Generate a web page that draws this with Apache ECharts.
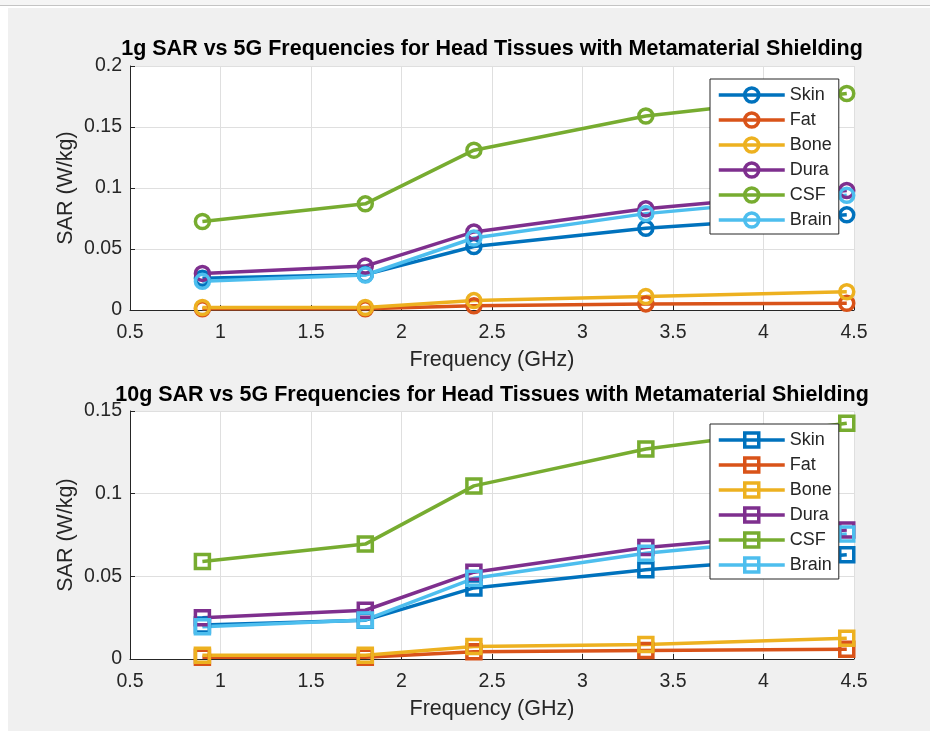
<!DOCTYPE html>
<html>
<head>
<meta charset="utf-8">
<script src="https://cdn.jsdelivr.net/npm/echarts@6/dist/echarts.min.js"></script>
<style>
  html, body { margin: 0; padding: 0; background: #fff; }
  #chart { width: 930px; height: 731px; }
</style>
</head>
<body>
<div id="chart"></div>
<script>
// Frequencies (GHz) and tissue layers
const frequencies = [0.9, 1.8, 2.4, 3.35, 4.46];
const tissues = ['Skin', 'Fat', 'Bone', 'Dura', 'CSF', 'Brain'];
const tissueColors = ['#0072BD', '#D95319', '#EDB120', '#7E2F8E', '#77AC30', '#4DBEEE'];

// 1g-averaged SAR (W/kg)
const sar1gSkin  = [0.026, 0.029, 0.052, 0.067, 0.078];
const sar1gFat   = [0.001, 0.001, 0.0035, 0.005, 0.0055];
const sar1gBone  = [0.002, 0.002, 0.0077, 0.011, 0.015];
const sar1gDura  = [0.030, 0.036, 0.064, 0.083, 0.098];
const sar1gCSF   = [0.0725, 0.087, 0.131, 0.159, 0.1775];
const sar1gBrain = [0.0235, 0.0287, 0.059, 0.079, 0.094];

// 10g-averaged SAR (W/kg)
const sar10gSkin  = [0.0205, 0.0235, 0.043, 0.054, 0.063];
const sar10gFat   = [0.001, 0.001, 0.0044, 0.0052, 0.0059];
const sar10gBone  = [0.0022, 0.0022, 0.0075, 0.0088, 0.0125];
const sar10gDura  = [0.025, 0.0295, 0.0525, 0.0675, 0.078];
const sar10gCSF   = [0.059, 0.0695, 0.1047, 0.127, 0.1426];
const sar10gBrain = [0.0195, 0.0236, 0.0488, 0.064, 0.0756];

// Axis ranges
const freqMin = 0.5, freqMax = 4.5, freqStep = 0.5;
const sar1gMax = 0.2, sar1gStep = 0.05;
const sar10gMax = 0.15, sar10gStep = 0.05;

const sar1g = [sar1gSkin, sar1gFat, sar1gBone, sar1gDura, sar1gCSF, sar1gBrain];
const sar10g = [sar10gSkin, sar10gFat, sar10gBone, sar10gDura, sar10gCSF, sar10gBrain];

const FONT = 'Liberation Sans, Arial, Helvetica, sans-serif';
const INK = '#262626';
const LINE_W = 3.5;

function xAxisFor(gridIndex) {
  return {
    type: 'value', gridIndex: gridIndex,
    min: freqMin, max: freqMax, interval: freqStep,
    name: 'Frequency (GHz)', nameLocation: 'middle', nameGap: 39, nameMoveOverlap: false,
    nameTextStyle: { fontSize: 21.5, color: INK, fontFamily: FONT },
    axisLine: { show: true, onZero: false, lineStyle: { color: INK, width: 1 } },
    axisTick: { show: true, inside: true, length: 5, lineStyle: { color: INK, width: 1 } },
    axisLabel: { fontSize: 19.5, color: INK, fontFamily: FONT, margin: 13 },
    splitLine: { show: true, lineStyle: { color: '#dfdfdf', width: 1 } }
  };
}

function yAxisFor(gridIndex, max, step) {
  return {
    type: 'value', gridIndex: gridIndex,
    min: 0, max: max, interval: step,
    name: 'SAR (W/kg)', nameLocation: 'middle', nameGap: 53, nameRotate: 90, nameMoveOverlap: false,
    nameTextStyle: { fontSize: 21.5, color: INK, fontFamily: FONT },
    axisLine: { show: true, onZero: false, lineStyle: { color: INK, width: 1 } },
    axisTick: { show: true, inside: true, length: 5, lineStyle: { color: INK, width: 1 } },
    axisLabel: { fontSize: 19.5, color: INK, fontFamily: FONT, margin: 8 },
    splitLine: { show: true, lineStyle: { color: '#dfdfdf', width: 1 } }
  };
}

function makeSeries(prefix, values, axisIndex, symbol) {
  return tissues.map(function (t, i) {
    const c = tissueColors[i];
    return {
      type: 'line', name: prefix + ' ' + t,
      xAxisIndex: axisIndex, yAxisIndex: axisIndex,
      data: frequencies.map(function (f, k) { return [f, values[i][k]]; }),
      symbol: symbol, symbolSize: 14, showSymbol: true, showAllSymbol: true,
      clip: false,
      lineStyle: { color: c, width: LINE_W },
      itemStyle: { color: 'rgba(0,0,0,0)', borderColor: c, borderWidth: LINE_W },
      emphasis: { disabled: true },
      z: 2
    };
  });
}

function makeLegend(prefix, top) {
  return {
    z: 20,
    orient: 'vertical', left: 710, top: top,
    backgroundColor: '#fff', borderColor: INK, borderWidth: 1, borderRadius: 0,
    padding: [7, 7, 5, 7],
    itemWidth: 66, itemHeight: 17.5, itemGap: 7,
    textStyle: { fontSize: 18, color: INK, fontFamily: FONT },
    selectedMode: false,
    formatter: function (name) { return name.slice(prefix.length + 1); },
    data: tissues.map(function (t, i) {
      const c = tissueColors[i];
      return {
        name: prefix + ' ' + t,
        itemStyle: { color: 'rgba(0,0,0,0)', borderColor: c, borderWidth: LINE_W },
        lineStyle: { color: c, width: LINE_W }
      };
    })
  };
}

const chart = echarts.init(document.getElementById('chart'), null, { renderer: 'canvas' });

chart.setOption({
  animation: false,
  backgroundColor: '#f0f0f0',
  graphic: [
    { type: 'rect', silent: true, shape: { x: 0, y: 0, width: 8, height: 731 }, style: { fill: '#ffffff' } },
    { type: 'rect', silent: true, shape: { x: 0, y: 0, width: 930, height: 5 }, style: { fill: '#f5f5f5' } },
    { type: 'rect', silent: true, shape: { x: 0, y: 6, width: 930, height: 2 }, style: { fill: '#ffffff' } },
    { type: 'line', silent: true, shape: { x1: 0, y1: 5.5, x2: 930, y2: 5.5 }, style: { stroke: '#c4c4c4', lineWidth: 1 } }
  ],
  title: [
    {
      text: '1g SAR vs 5G Frequencies for Head Tissues with Metamaterial Shielding',
      left: 492, top: 38, textAlign: 'center', padding: 0,
      textStyle: { fontSize: 21.5, fontWeight: 'bold', color: '#000', fontFamily: FONT }
    },
    {
      text: '10g SAR vs 5G Frequencies for Head Tissues with Metamaterial Shielding',
      left: 492, top: 384, textAlign: 'center', padding: 0,
      textStyle: { fontSize: 21.5, fontWeight: 'bold', color: '#000', fontFamily: FONT }
    }
  ],
  grid: [
    { left: 130, top: 66, width: 724, height: 244, show: true, backgroundColor: '#fff', borderWidth: 0, containLabel: false },
    { left: 130, top: 411, width: 724, height: 248, show: true, backgroundColor: '#fff', borderWidth: 0, containLabel: false }
  ],
  xAxis: [xAxisFor(0), xAxisFor(1)],
  yAxis: [yAxisFor(0, sar1gMax, sar1gStep), yAxisFor(1, sar10gMax, sar10gStep)],
  legend: [makeLegend('1g', 79), makeLegend('10g', 424)],
  series: makeSeries('1g', sar1g, 0, 'circle').concat(makeSeries('10g', sar10g, 1, 'rect'))
});
</script>
</body>
</html>
